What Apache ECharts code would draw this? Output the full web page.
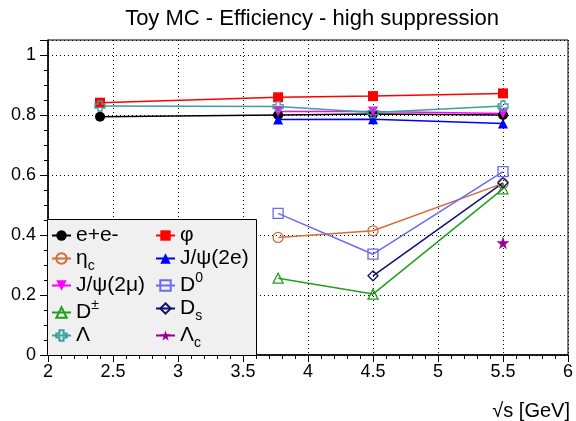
<!DOCTYPE html>
<html>
<head>
<meta charset="utf-8">
<script src="https://cdn.jsdelivr.net/npm/echarts@6/dist/echarts.min.js"></script>
<style>html,body{margin:0;padding:0;background:#fff}#c{width:576px;height:421px}</style>
</head>
<body>
<div id="c"></div>
<script>
const energies = [2.4, 3.77, 4.5, 5.5];
const eeVals = [0.794, 0.800, 0.803, 0.800];
const phiVals = [0.841, 0.859, 0.863, 0.872];
const etacVals = [null, 0.392, 0.414, 0.572];
const jpsi2eVals = [null, 0.785, 0.786, 0.772];
const jpsi2muVals = [null, 0.812, 0.812, 0.805];
const d0Vals = [null, 0.472, 0.336, 0.611];
const dpmVals = [null, 0.256, 0.203, 0.554];
const dsVals = [null, null, 0.264, 0.574];
const lambdaVals = [0.830, 0.828, 0.808, 0.830];
const lambdacVals = [null, null, null, 0.374];

const legendLeftCol = ['e+e-', 'etac', 'jpsi2mu', 'Dpm', 'Lambda'];
const legendRightCol = ['phi', 'jpsi2e', 'D0', 'Ds', 'Lambdac'];
const legendLabels = {
  'e+e-': '{m|e+e-}',
  'phi': '{m|φ}',
  'etac': '{m|η}{sub|c}',
  'jpsi2e': '{m|J/ψ(2e)}',
  'jpsi2mu': '{m|J/ψ(2μ)}',
  'D0': '{m|D}{sup|0}',
  'Dpm': '{m|D}{sup|±}',
  'Ds': '{m|D}{sub|s}',
  'Lambda': '{m|Λ}',
  'Lambdac': '{m|Λ}{sub|c}'
};
const xTickLabels = ['2', '2.5', '3', '3.5', '4', '4.5', '5', '5.5', '6'];

const CROSS = 'path://M3,0 H7 V3 H10 V7 H7 V10 H3 V7 H0 V3 H3 Z';
const STAR = 'path://M50,0 L61,35 L98,35 L68,57 L79,91 L50,70 L21,91 L32,57 L2,35 L39,35 Z';
const TRI_DOWN = 'path://M0,0 L10,0 L5,9 Z';

function pairs(vals) {
  const out = [];
  vals.forEach((v, i) => { if (v !== null) out.push([energies[i], v]); });
  return out;
}

function mk(name, vals, color, symbol, open, size) {
  return {
    name: name,
    type: 'line',
    data: pairs(vals),
    symbol: symbol,
    symbolSize: size || 10,
    showAllSymbol: true,
    lineStyle: { color: color, width: 1.5 },
    itemStyle: open
      ? { color: 'rgba(255,255,255,0)', borderColor: color, borderWidth: 1.3 }
      : { color: color, borderColor: color, borderWidth: 0 },
    emphasis: { disabled: true },
    z: 3
  };
}

const FONT = 'Liberation Sans, Arial, Helvetica, sans-serif';

const legendText = {
  fontFamily: FONT, color: '#000',
  rich: {
    m: { fontFamily: FONT, fontSize: 21, lineHeight: 29, color: '#000' },
    sub: { fontFamily: FONT, fontSize: 14, lineHeight: 29, verticalAlign: 'bottom', color: '#000' },
    sup: { fontFamily: FONT, fontSize: 14, lineHeight: 29, verticalAlign: 'top', color: '#000' }
  }
};
function mkLegend(names, left) {
  return {
    data: names,
    orient: 'vertical',
    left: left, top: 225,
    itemWidth: 19, itemHeight: 13, itemGap: 2,
    padding: 0,
    selectedMode: false,
    formatter: function (n) { return legendLabels[n]; },
    textStyle: legendText,
    z: 5
  };
}

const chart = echarts.init(document.getElementById('c'), null, { renderer: 'canvas' });
chart.setOption({
  animation: false,
  backgroundColor: '#ffffff',
  title: {
    text: 'Toy MC - Efficiency - high suppression',
    left: 307, textAlign: 'center',
    top: 3,
    textStyle: { fontFamily: FONT, fontSize: 22, fontWeight: 'normal', color: '#000' }
  },
  grid: {
    left: 48, right: 6, top: 40, bottom: 66,
    show: true, borderColor: '#000', borderWidth: 1, backgroundColor: 'transparent'
  },
  xAxis: {
    type: 'value', min: 2, max: 6, interval: 0.5,
    axisLine: { show: true, lineStyle: { color: '#000', width: 1.5 } },
    axisTick: { show: true, inside: false, length: 7, lineStyle: { color: '#000' } },
    minorTick: { show: true, splitNumber: 5, length: 4, lineStyle: { color: '#000' } },
    splitLine: { show: true, lineStyle: { color: '#000', type: [1, 3], width: 1 } },
    axisLabel: {
      color: '#000', fontFamily: FONT, fontSize: 18, margin: 8,
      formatter: function (v) { const i = Math.round((v - 2) / 0.5); return xTickLabels[i] !== undefined ? xTickLabels[i] : ''; }
    }
  },
  yAxis: {
    type: 'value', min: 0, max: 1.05, interval: 0.2,
    axisLine: { show: true, lineStyle: { color: '#000', width: 1.5 } },
    axisTick: { show: true, inside: false, length: 8, lineStyle: { color: '#000' } },
    minorTick: { show: true, splitNumber: 4, length: 4, lineStyle: { color: '#000' } },
    splitLine: { show: true, lineStyle: { color: '#000', type: [1, 3], width: 1 } },
    axisLabel: { color: '#000', fontFamily: FONT, fontSize: 18, margin: 12, showMaxLabel: false }
  },
  legend: [mkLegend(legendLeftCol, 51), mkLegend(legendRightCol, 155)],
  graphic: [
    {
      type: 'rect', left: 47, top: 219, z: 4,
      shape: { width: 209, height: 136 },
      style: { fill: '#f0f0f0', stroke: '#000', lineWidth: 1 }
    },
    {
      type: 'text', right: 6, top: 401, z: 5,
      style: { text: '√s [GeV]', fontFamily: FONT, fontSize: 20, fill: '#000' }
    }
  ],
  series: [
    mk('e+e-', eeVals, '#000000', 'circle', false, 10),
    mk('phi', phiVals, '#ff0000', 'rect', false, 10),
    mk('etac', etacVals, '#d0703a', 'circle', true, 10),
    mk('jpsi2e', jpsi2eVals, '#0000ff', 'triangle', false, 10),
    mk('jpsi2mu', jpsi2muVals, '#ff00ff', TRI_DOWN, false, 10),
    mk('D0', d0Vals, '#6a6af0', 'rect', true, 10),
    mk('Dpm', dpmVals, '#1fa01f', 'triangle', true, 10),
    mk('Ds', dsVals, '#10106e', 'diamond', true, 10),
    mk('Lambda', lambdaVals, '#3ca0a0', CROSS, true, 10),
    mk('Lambdac', lambdacVals, '#990099', STAR, false, 13)
  ]
});
</script>
</body>
</html>
